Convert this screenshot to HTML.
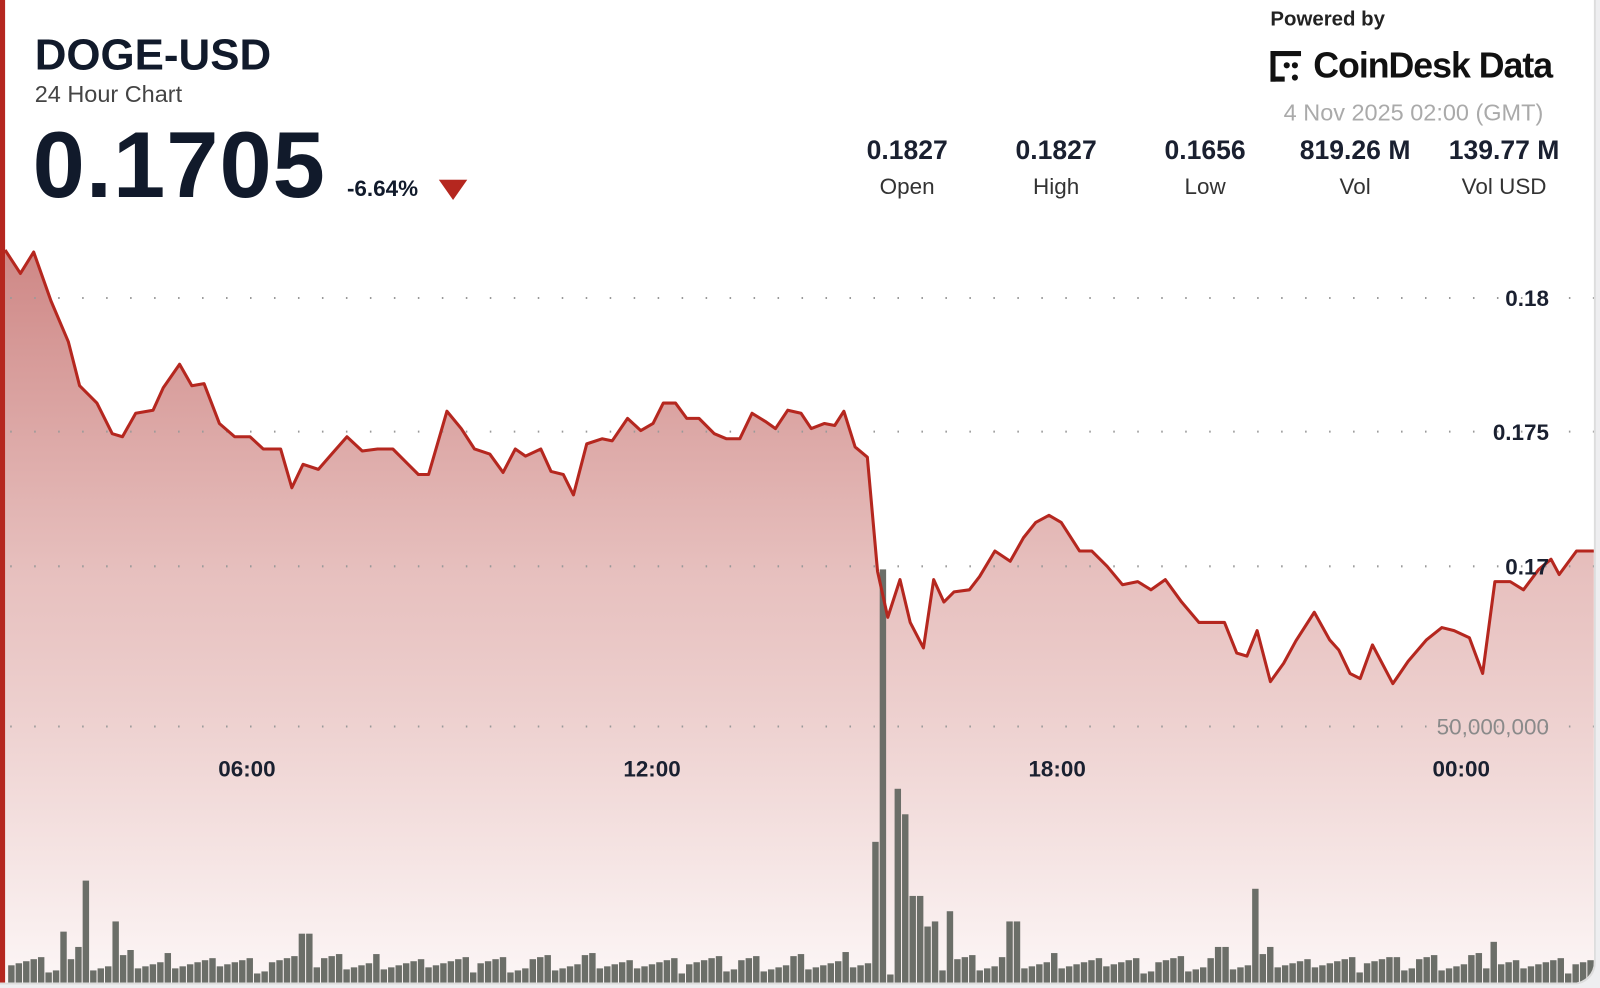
<!DOCTYPE html>
<html><head><meta charset="utf-8"><style>
body{margin:0;width:1600px;height:988px;background:#eeeef0;overflow:hidden;font-family:"Liberation Sans",sans-serif}
#wrap{position:absolute;left:0;top:0;width:1568px;height:968px;transform:scale(1.02041);transform-origin:0 0}
#card{position:absolute;left:0;top:0;width:1562px;height:963px;background:#fff;border-radius:0 0 22px 0;border-right:2px solid #ddd;border-bottom:2px solid #ddd;overflow:hidden}
#bar{position:absolute;left:0;top:0;width:5px;height:963px;background:#b5271f}
.t{position:absolute;color:#111a2b;white-space:nowrap}
.st{position:absolute;text-align:center;width:130px}
.st b{display:block;font-size:26px;color:#1a2030}
.st span{display:block;font-size:22px;color:#333;margin-top:7px}
</style></head><body>
<div id="wrap">
<div id="card">
<svg width="1562" height="963" style="position:absolute;left:0;top:0">
<defs><linearGradient id="g" x1="0" y1="0" x2="0" y2="1"><stop offset="0" stop-color="#c97a78" stop-opacity="0.9"/><stop offset="0.45" stop-color="#e3b6b4" stop-opacity="0.85"/><stop offset="0.75" stop-color="#f2dcdb"/><stop offset="1" stop-color="#fcf6f6"/></linearGradient></defs>
<path id="area" fill="url(#g)"/>
<g stroke="#999" stroke-width="2" stroke-dasharray="1.5 22">
<line x1="10" y1="292" x2="1562" y2="292"/><line x1="10" y1="423" x2="1562" y2="423"/><line x1="10" y1="555" x2="1562" y2="555"/><line x1="10" y1="712" x2="1562" y2="712"/></g>
<g id="vol" fill="#6b6e68"></g>
<polyline id="line" fill="none" stroke="#b5271f" stroke-width="3" stroke-linejoin="round"/>
<g font-family="Liberation Sans" font-weight="bold" font-size="22" fill="#1a2030" text-anchor="end">
<text x="1518" y="300">0.18</text><text x="1518" y="431">0.175</text><text x="1518" y="563">0.17</text>
<text x="1518" y="720" fill="#8a8a8a" font-weight="normal">50,000,000</text></g>
<g font-family="Liberation Sans" font-weight="bold" font-size="22" fill="#1a2030" text-anchor="middle">
<text x="242" y="761">06:00</text><text x="639" y="761">12:00</text><text x="1036" y="761">18:00</text><text x="1432" y="761">00:00</text></g>
</svg>
<div id="bar"></div>
<div class="t" style="left:34px;top:30px;font-size:43px;font-weight:bold">DOGE-USD</div>
<div class="t" style="left:34px;top:79px;font-size:23px;color:#444">24 Hour Chart</div>
<div class="t" style="left:32px;top:110px;font-size:92px;font-weight:bold;letter-spacing:1px">0.1705</div>
<div class="t" style="left:340px;top:172px;font-size:22px;font-weight:bold">-6.64%</div>
<svg style="position:absolute;left:430px;top:176px" width="28" height="20"><polygon points="0,0 28,0 14,20" fill="#b5271f"/></svg>
<div class="t" style="left:1245px;top:8px;font-size:20px;font-weight:bold;color:#222">Powered by</div>
<svg style="position:absolute;left:1245px;top:48px" width="36" height="36"><g fill="#111"><rect x="0" y="2" width="5" height="30"/><rect x="0" y="2" width="30" height="5"/><rect x="0" y="27" width="14" height="5"/><circle cx="16" cy="16" r="3"/><circle cx="24" cy="16" r="3"/><circle cx="24" cy="28" r="3"/></g></svg>
<div class="t" style="left:1287px;top:45px;font-size:35px;font-weight:bold;color:#111;letter-spacing:-1px">CoinDesk Data</div>
<div class="t" style="left:1258px;top:97px;font-size:23px;color:#aaa">4 Nov 2025 02:00 (GMT)</div>
<div class="st" style="left:824px;top:132px"><b>0.1827</b><span>Open</span></div>
<div class="st" style="left:970px;top:132px"><b>0.1827</b><span>High</span></div>
<div class="st" style="left:1116px;top:132px"><b>0.1656</b><span>Low</span></div>
<div class="st" style="left:1263px;top:132px"><b>819.26 M</b><span>Vol</span></div>
<div class="st" style="left:1409px;top:132px"><b>139.77 M</b><span>Vol USD</span></div>
</div>
</div>
<script>
var p=[[5,245],[20,268],[33,247],[50,295],[67,335],[78,378],[95,395],[110,425],[120,428],[133,405],[150,402],[160,380],[176,357],[188,378],[200,376],[215,415],[230,428],[245,428],[258,440],[275,440],[286,478],[297,455],[312,460],[325,445],[340,428],[355,442],[370,440],[385,440],[400,455],[410,465],[420,465],[438,403],[452,420],[465,440],[480,445],[493,463],[505,440],[515,447],[530,440],[540,462],[552,465],[562,485],[575,435],[590,430],[600,432],[615,410],[628,422],[640,415],[650,395],[662,395],[673,410],[685,410],[700,425],[712,430],[725,430],[737,405],[750,413],[760,420],[772,402],[785,405],[795,420],[808,415],[818,417],[827,403],[838,438],[850,448],[860,560],[870,605],[882,568],[892,610],[905,635],[915,568],[925,590],[935,580],[950,578],[960,565],[975,540],[990,550],[1003,527],[1015,512],[1028,505],[1040,512],[1058,540],[1070,540],[1085,555],[1100,573],[1115,570],[1128,578],[1142,568],[1158,590],[1175,610],[1200,610],[1212,640],[1222,643],[1232,618],[1245,668],[1258,650],[1270,628],[1288,600],[1303,627],[1312,637],[1323,660],[1333,665],[1345,632],[1365,670],[1380,648],[1398,627],[1413,615],[1425,618],[1440,625],[1453,660],[1465,570],[1480,570],[1493,578],[1508,558],[1520,548],[1528,563],[1545,540],[1562,540]];
var s=p.map(function(a){return a.join(',')}).join(' ');
document.getElementById('line').setAttribute('points',s);
document.getElementById('area').setAttribute('d','M5,963 L'+s.replace(/ /g,' L')+' L1562,963 Z');
var pk={82:100,60:50,113:60,72:35,123:32,290:48,300:48,855:138,865:405,876:190,886:165,895:85,905:55,915:60,925:70,990:60,1230:92,1460:40,1190:35,1200:35,1240:35,1365:25};
var g='',i=0;
for(var x=8;x<1556;x+=7.3){i++;var h=8+((i*37)%17)+((i*13)%7);
for(var k in pk){if(Math.abs(x-k)<4)h=pk[k];}
g+='<rect x="'+x.toFixed(1)+'" y="'+(963-h)+'" width="6.3" height="'+h+'"/>';}
document.getElementById('vol').innerHTML=g;
</script>
</body></html>
